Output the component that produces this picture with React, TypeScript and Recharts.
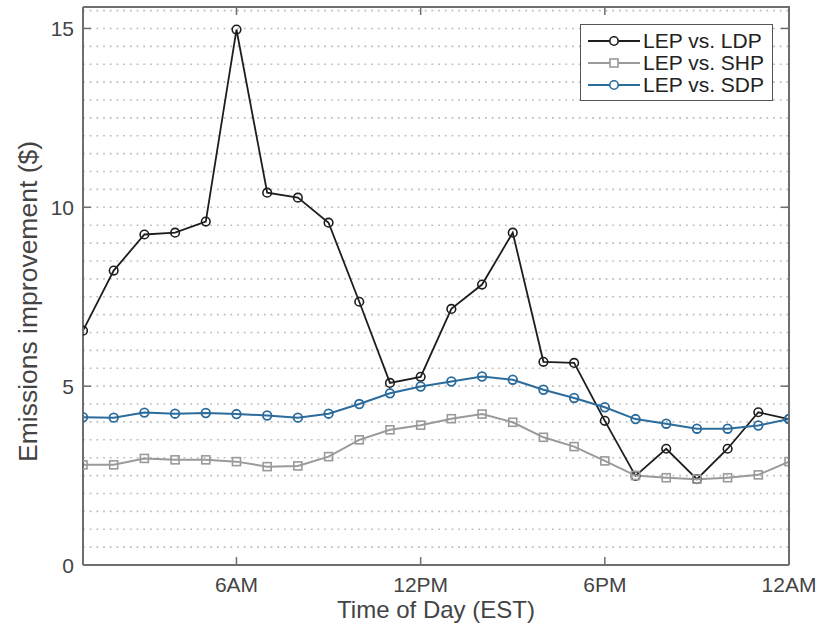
import { CartesianGrid, Legend, Line, LineChart, XAxis, YAxis } from "recharts";

const hours = [1, 2, 3, 4, 5, 6, 7, 8, 9, 10, 11, 12, 13, 14, 15, 16, 17, 18, 19, 20, 21, 22, 23, 24];
const ldp = [6.55, 8.23, 9.24, 9.29, 9.6, 14.97, 10.41, 10.27, 9.57, 7.36, 5.09, 5.26, 7.16, 7.84, 9.29, 5.68, 5.65, 4.03, 2.49, 3.25, 2.4, 3.25, 4.27, 4.08];
const shp = [2.8, 2.8, 2.98, 2.94, 2.94, 2.89, 2.75, 2.77, 3.03, 3.5, 3.78, 3.91, 4.09, 4.22, 3.99, 3.57, 3.31, 2.91, 2.5, 2.44, 2.4, 2.44, 2.52, 2.89];
const sdp = [4.13, 4.12, 4.26, 4.23, 4.25, 4.22, 4.18, 4.12, 4.23, 4.5, 4.8, 4.99, 5.13, 5.27, 5.18, 4.9, 4.67, 4.41, 4.08, 3.95, 3.81, 3.81, 3.9, 4.08];

const xDomain = [1, 24];
const yDomain = [0, 15.6];
const xTicks = [6, 12, 18, 24];
const xTickLabels = ["6AM", "12PM", "6PM", "12AM"];
const yLabelTicks = [0, 5, 10, 15];
// minor grid every 0.5
const yGridTicks = [0, 0.5, 1, 1.5, 2, 2.5, 3, 3.5, 4, 4.5, 5, 5.5, 6, 6.5, 7, 7.5, 8, 8.5, 9, 9.5, 10, 10.5, 11, 11.5, 12, 12.5, 13, 13.5, 14, 14.5, 15, 15.5];

const seriesNames = ["LEP vs. LDP", "LEP vs. SHP", "LEP vs. SDP"];
const colors = ["#1e1e1e", "#9a9a9a", "#2c6c9c"];

const data = hours.map((h, i) => ({ hour: h, ldp: ldp[i], shp: shp[i], sdp: sdp[i] }));

const W = 826;
const H = 627;
const margin = { top: 7, right: 37, bottom: 0, left: 0 };
const yAxisW = 83;
const xAxisH = 62;
// plot box, used for the top/right frame overlay
const box = { left: yAxisW, top: margin.top, right: W - margin.right, bottom: H - xAxisH };

const font = '"Liberation Sans", Arial, sans-serif';
const axisColor = "#6e6e6e";
const textColor = "#444";

const BottomTick = (props: any) => {
  const { x, y, payload } = props;
  const idx = xTicks.indexOf(payload.value);
  return (
    <g>
      <line x1={x} x2={x} y1={y} y2={y - 8} stroke={axisColor} strokeWidth={1.5} />
      <text x={x} y={y + 27} textAnchor="middle" fontSize={21} fontFamily={font} fill={textColor}>
        {idx >= 0 ? xTickLabels[idx] : ""}
      </text>
    </g>
  );
};

const LeftTick = (props: any) => {
  const { x, y, payload } = props;
  if (!yLabelTicks.includes(payload.value)) return <g />;
  return (
    <g>
      <line x1={x} x2={x + 8} y1={y} y2={y} stroke={axisColor} strokeWidth={1.5} />
      <text x={x - 9} y={y} dy="0.36em" textAnchor="end" fontSize={21} fontFamily={font} fill={textColor}>
        {payload.value}
      </text>
    </g>
  );
};

const SquareDot = (props: any) => {
  const { cx, cy, index } = props;
  return (
    <rect key={`sq-${index}`} x={cx - 4} y={cy - 4} width={8} height={8} fill="none" stroke={colors[1]} strokeWidth={1.6} />
  );
};

const LegendBox = () => (
  <div
    style={{
      width: 191,
      height: 75,
      border: "1.5px solid #555",
      background: "#fff",
      fontFamily: font,
      fontSize: 21,
      color: "#222",
      boxSizing: "content-box",
    }}
  >
    {seriesNames.map((name, i) => (
      <div key={name} style={{ display: "flex", alignItems: "center", height: 22, marginTop: i === 0 ? 5 : 0 }}>
        <svg width={62} height={22} style={{ flex: "none" }}>
          <line x1={7} x2={59} y1={11} y2={11} stroke={colors[i]} strokeWidth={2} />
          {i === 1 ? (
            <rect x={29} y={7} width={8} height={8} fill="#fff" stroke={colors[i]} strokeWidth={1.6} />
          ) : (
            <circle cx={33} cy={11} r={4.2} fill="#fff" stroke={colors[i]} strokeWidth={1.6} />
          )}
        </svg>
        <span style={{ lineHeight: "22px", whiteSpace: "nowrap" }}>{name}</span>
      </div>
    ))}
  </div>
);

// top and right edges of the axes box, with inward ticks
const Frame = () => {
  const sx = (v: number) => box.left + ((v - xDomain[0]) / (xDomain[1] - xDomain[0])) * (box.right - box.left);
  const sy = (v: number) => box.bottom - ((v - yDomain[0]) / (yDomain[1] - yDomain[0])) * (box.bottom - box.top);
  return (
    <svg
      width={W}
      height={H}
      style={{ position: "absolute", left: 0, top: 0, zIndex: 10, pointerEvents: "none" }}
    >
      <line x1={box.left} x2={box.right + 1} y1={box.top} y2={box.top} stroke={axisColor} strokeWidth={2} />
      <line x1={box.right} x2={box.right} y1={box.top} y2={box.bottom} stroke={axisColor} strokeWidth={2} />
      {xTicks.map((t) => (
        <line key={`t${t}`} x1={sx(t)} x2={sx(t)} y1={box.top} y2={box.top + 8} stroke={axisColor} strokeWidth={1.5} />
      ))}
      {yLabelTicks.map((t) => (
        <line key={`r${t}`} x1={box.right} x2={box.right - 8} y1={sy(t)} y2={sy(t)} stroke={axisColor} strokeWidth={1.5} />
      ))}
    </svg>
  );
};

export default function App() {
  return (
    <div style={{ position: "absolute", left: 0, top: 0, width: W, height: H, background: "#fff" }}>
      <LineChart width={W} height={H} data={data} margin={margin}>
        <CartesianGrid
          horizontal={true}
          vertical={false}
          stroke="#bdbdbd"
          strokeWidth={1.6}
          strokeDasharray="1.8 4.9"
        />
        <XAxis
          dataKey="hour"
          type="number"
          domain={xDomain}
          ticks={xTicks}
          height={xAxisH}
          tickSize={0}
          tickMargin={0}
          tick={<BottomTick />}
          stroke={axisColor}
          strokeWidth={2}
          allowDataOverflow
          label={{
            value: "Time of Day (EST)",
            position: "insideBottom",
            offset: 9,
            fontSize: 24,
            fontFamily: font,
            fill: textColor,
          }}
        />
        <YAxis
          type="number"
          domain={yDomain}
          ticks={yGridTicks}
          interval={0}
          width={yAxisW}
          tickSize={0}
          tickMargin={0}
          tick={<LeftTick />}
          stroke={axisColor}
          strokeWidth={2}
          allowDataOverflow
          label={{
            value: "Emissions improvement ($)",
            angle: -90,
            position: "insideLeft",
            offset: 28,
            dy: 176,
            fontSize: 26.5,
            fontFamily: font,
            fill: textColor,
          }}
        />
        <Legend
          layout="horizontal"
          verticalAlign="middle"
          align="center"
          content={<LegendBox />}
          wrapperStyle={{ position: "absolute", left: 580, top: 24, width: 194, height: 78 }}
        />
        <Line
          type="linear"
          dataKey="ldp"
          name={seriesNames[0]}
          stroke={colors[0]}
          strokeWidth={1.8}
          dot={{ r: 4.3, fill: "none", stroke: colors[0], strokeWidth: 1.6 }}
          isAnimationActive={false}
        />
        <Line
          type="linear"
          dataKey="shp"
          name={seriesNames[1]}
          stroke={colors[1]}
          strokeWidth={2}
          dot={SquareDot}
          isAnimationActive={false}
        />
        <Line
          type="linear"
          dataKey="sdp"
          name={seriesNames[2]}
          stroke={colors[2]}
          strokeWidth={2}
          dot={{ r: 4.3, fill: "none", stroke: colors[2], strokeWidth: 1.8 }}
          isAnimationActive={false}
        />
      </LineChart>
      <Frame />
    </div>
  );
}
